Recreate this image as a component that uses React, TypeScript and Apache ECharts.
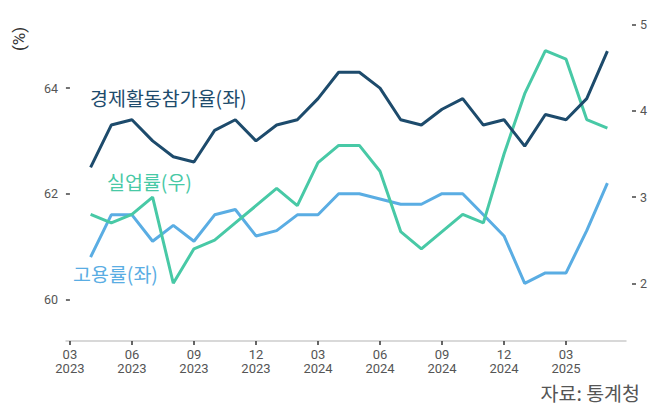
import React, { useEffect, useRef } from "react";
import * as echarts from "echarts";

// month index 0 = 2023-03
const monthLabels = [
  "03\n2023", "04\n2023", "05\n2023", "06\n2023", "07\n2023", "08\n2023", "09\n2023",
  "10\n2023", "11\n2023", "12\n2023", "01\n2024", "02\n2024", "03\n2024", "04\n2024",
  "05\n2024", "06\n2024", "07\n2024", "08\n2024", "09\n2024", "10\n2024", "11\n2024",
  "12\n2024", "01\n2025", "02\n2025", "03\n2025", "04\n2025", "05\n2025",
];
const tickIndices = [0, 3, 6, 9, 12, 15, 18, 21, 24];
const firstDataIndex = 1; // data start 2023-04

const participation = [
  62.5, 63.3, 63.4, 63.0, 62.7, 62.6, 63.2, 63.4, 63.0, 63.3, 63.4, 63.8, 64.3,
  64.3, 64.0, 63.4, 63.3, 63.6, 63.8, 63.3, 63.4, 62.9, 63.5, 63.4, 63.8, 64.7,
];
const unemployment = [
  2.8, 2.7, 2.8, 3.0, 2.0, 2.4, 2.5, 2.7, 2.9, 3.1, 2.9, 3.4, 3.6,
  3.6, 3.3, 2.6, 2.4, 2.6, 2.8, 2.7, 3.5, 4.2, 4.7, 4.6, 3.9, 3.8,
];
const employment = [
  60.8, 61.6, 61.6, 61.1, 61.4, 61.1, 61.6, 61.7, 61.2, 61.3, 61.6, 61.6, 62.0,
  62.0, 61.9, 61.8, 61.8, 62.0, 62.0, 61.6, 61.2, 60.3, 60.5, 60.5, 61.3, 62.2,
];
const leftTicks = [60, 62, 64];
const rightTicks = [2, 3, 4, 5];

const toPairs = (arr: number[]) => arr.map((v, i) => [i + firstDataIndex, v]);

const C_DARK = "#1d4b6c";
const C_TEAL = "#48c9a6";
const C_BLUE = "#5aade3";
const GRAY = "#555";
const KFONT = "'Noto Sans CJK KR', 'Noto Sans', sans-serif";
const NFONT = "Roboto, 'Liberation Sans', sans-serif";

export default function App() {
  const ref = useRef<HTMLDivElement>(null);
  useEffect(() => {
    document.body.style.margin = "0";
    if (!ref.current) return;
    const chart = echarts.init(ref.current, undefined, { renderer: "svg" });
    const yCommon = {
      type: "value" as const,
      splitLine: { show: false },
      axisLine: { show: false },
      axisTick: { show: true, length: 4, lineStyle: { color: "#444", width: 1.5 } },
      axisLabel: { color: GRAY, fontSize: 12.5, fontFamily: NFONT, margin: 8 },
    };
    chart.setOption({
      animation: false,
      grid: { left: 66, right: 37, top: 20, bottom: 64, outerBoundsMode: "none" },
      xAxis: {
        type: "value",
        min: -0.19,
        max: 26.9,
        splitLine: { show: false },
        axisLine: { show: true, lineStyle: { color: "#ccc", width: 1.5 } },
        axisTick: {
          show: true,
          length: 4,
          customValues: tickIndices,
          lineStyle: { color: "#333", width: 1.5 },
        },
        axisLabel: {
          customValues: tickIndices,
          formatter: (v: number) => monthLabels[Math.round(v)] ?? "",
          color: GRAY,
          fontSize: 13,
          lineHeight: 14,
          fontFamily: NFONT,
          margin: 6,
        },
      },
      yAxis: [
        {
          ...yCommon,
          position: "left",
          min: 59.21,
          max: 65.29,
          axisTick: { ...yCommon.axisTick, customValues: leftTicks },
          axisLabel: { ...yCommon.axisLabel, customValues: leftTicks },
        },
        {
          ...yCommon,
          position: "right",
          offset: 6,
          min: 1.33,
          max: 5.055,
          axisTick: { ...yCommon.axisTick, customValues: rightTicks },
          axisLabel: { ...yCommon.axisLabel, customValues: rightTicks },
        },
      ],
      series: [
        {
          name: "고용률(좌)",
          type: "line",
          yAxisIndex: 0,
          data: toPairs(employment),
          symbol: "none",
          lineStyle: { color: C_BLUE, width: 3 },
          itemStyle: { color: C_BLUE },
        },
        {
          name: "실업률(우)",
          type: "line",
          yAxisIndex: 1,
          data: toPairs(unemployment),
          symbol: "none",
          lineStyle: { color: C_TEAL, width: 3 },
          itemStyle: { color: C_TEAL },
        },
        {
          name: "경제활동참가율(좌)",
          type: "line",
          yAxisIndex: 0,
          data: toPairs(participation),
          symbol: "none",
          lineStyle: { color: C_DARK, width: 3 },
          itemStyle: { color: C_DARK },
        },
      ],
      graphic: [
        {
          type: "text",
          x: 19,
          y: 39,
          rotation: Math.PI / 2,
          style: {
            text: "(%)",
            fill: "#333",
            font: `17px ${NFONT}`,
            align: "center",
            verticalAlign: "middle",
          },
        },
        {
          type: "text",
          x: 90,
          y: 97,
          style: {
            text: "경제활동참가율(좌)",
            fill: C_DARK,
            font: `19.5px ${KFONT}`,
            verticalAlign: "middle",
          },
        },
        {
          type: "text",
          x: 107,
          y: 181,
          style: {
            text: "실업률(우)",
            fill: C_TEAL,
            font: `19.5px ${KFONT}`,
            verticalAlign: "middle",
          },
        },
        {
          type: "text",
          x: 73,
          y: 273,
          style: {
            text: "고용률(좌)",
            fill: C_BLUE,
            font: `19.5px ${KFONT}`,
            verticalAlign: "middle",
          },
        },
        {
          type: "text",
          x: 640,
          y: 392,
          style: {
            text: "자료: 통계청",
            fill: GRAY,
            font: `19.5px ${KFONT}`,
            align: "right",
            verticalAlign: "middle",
          },
        },
      ],
    });
    return () => chart.dispose();
  }, []);
  return <div ref={ref} style={{ width: 663, height: 405 }} />;
}
